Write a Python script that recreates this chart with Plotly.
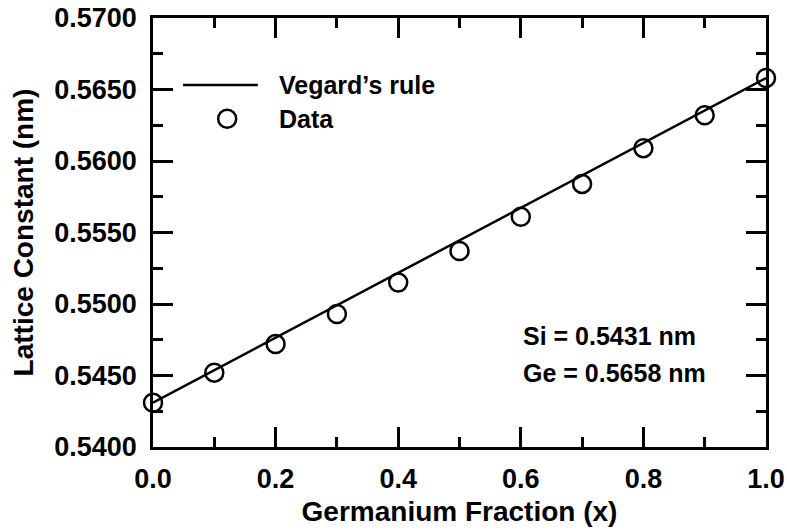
import plotly.graph_objects as go

# ---- data ----
ge_fraction = [0.0, 0.1, 0.2, 0.3, 0.4, 0.5, 0.6, 0.7, 0.8, 0.9, 1.0]
lattice_data = [0.5431, 0.5452, 0.5472, 0.5493, 0.5515, 0.5537, 0.5561, 0.5584, 0.5609, 0.5632, 0.5658]
si_const = 0.5431
ge_const = 0.5658
vegard_x = [0.0, 1.0]
vegard_y = [si_const, ge_const]

x_tickvals = [0.0, 0.2, 0.4, 0.6, 0.8, 1.0]
y_tickvals = [0.5400, 0.5450, 0.5500, 0.5550, 0.5600, 0.5650, 0.5700]

FONT = "Liberation Sans, Arial, Helvetica, sans-serif"
BLACK = "#000000"
LW = 2.5

fig = go.Figure()
fig.add_trace(go.Scatter(x=vegard_x, y=vegard_y, mode="lines",
                         line=dict(color=BLACK, width=LW), name="Vegard\u2019s rule",
                         showlegend=False, cliponaxis=False))
fig.add_trace(go.Scatter(x=ge_fraction, y=lattice_data, mode="markers",
                         marker=dict(symbol="circle-open", size=18, color=BLACK,
                                     line=dict(width=LW, color=BLACK)),
                         name="Data", showlegend=False, cliponaxis=False))

axis_common = dict(
    showline=True, linecolor=BLACK, linewidth=LW, mirror="ticks",
    ticks="inside", ticklen=20, tickwidth=LW, tickcolor=BLACK,
    showgrid=False, zeroline=False, ticklabeloverflow="allow",
    tickfont=dict(family=FONT, size=27, color=BLACK, weight="bold"),
)

fig.update_xaxes(range=[0, 1], tickvals=x_tickvals, tickformat=".1f",
                 minor=dict(dtick=0.1, ticks="inside", ticklen=10, tickwidth=LW, tickcolor=BLACK, showgrid=False),
                 title=dict(text="<b>Germanium Fraction (x)</b>", font=dict(family=FONT, size=28, color=BLACK), standoff=9),
                 ticklabelstandoff=6,
                 **axis_common)
fig.update_yaxes(range=[0.54, 0.57], tickvals=y_tickvals, tickformat=".4f",
                 minor=dict(dtick=0.0025, ticks="inside", ticklen=10, tickwidth=LW, tickcolor=BLACK, showgrid=False),
                 title=dict(text="<b>Lattice Constant (nm)</b>", font=dict(family=FONT, size=28, color=BLACK), standoff=13),
                 ticklabelstandoff=8,
                 **axis_common)

# manual legend
fig.add_shape(type="line", xref="paper", yref="paper", x0=0.049, x1=0.171, y0=0.844, y1=0.844,
              line=dict(color=BLACK, width=LW))
fig.add_shape(type="circle", xref="paper", yref="paper", xsizemode="pixel", ysizemode="pixel",
              xanchor=0.121, yanchor=0.765, x0=-9, x1=9, y0=-9, y1=9,
              line=dict(color=BLACK, width=LW))
fig.add_annotation(text="<b>Vegard\u2019s rule</b>", xref="paper", yref="paper", x=0.202, y=0.844,
                   xanchor="left", yanchor="middle", showarrow=False,
                   font=dict(family=FONT, size=25, color=BLACK))
fig.add_annotation(text="<b>Data</b>", xref="paper", yref="paper", x=0.202, y=0.765,
                   xanchor="left", yanchor="middle", showarrow=False,
                   font=dict(family=FONT, size=25, color=BLACK))

fig.add_annotation(text=f"<b>Si = {si_const:.4f} nm</b>", xref="paper", yref="paper", x=0.600, y=0.258,
                   xanchor="left", yanchor="middle", showarrow=False,
                   font=dict(family=FONT, size=25, color=BLACK))
fig.add_annotation(text=f"<b>Ge = {ge_const:.4f} nm</b>", xref="paper", yref="paper", x=0.600, y=0.172,
                   xanchor="left", yanchor="middle", showarrow=False,
                   font=dict(family=FONT, size=25, color=BLACK))

fig.update_layout(
    width=787, height=531,
    margin=dict(l=153, r=21, t=18, b=84, autoexpand=False),
    paper_bgcolor="white", plot_bgcolor="white",
    showlegend=False,
    font=dict(family=FONT, color=BLACK),
)

# remove the default page margin so the figure fills the window exactly
fig.write_html("out.html",
               config={"displayModeBar": False},
               post_script="document.body.style.margin='0';document.body.style.overflow='hidden';")
